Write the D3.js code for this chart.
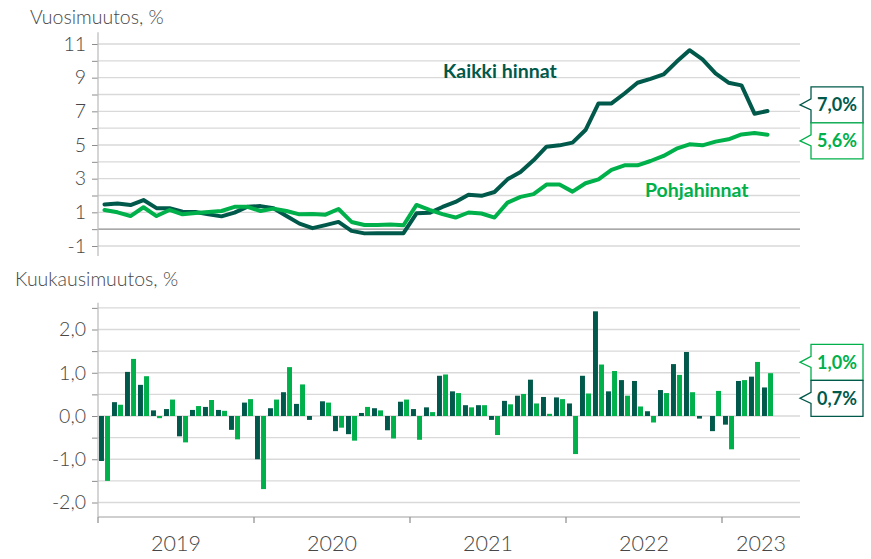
<!DOCTYPE html>
<html><head><meta charset="utf-8">
<script src="https://cdn.jsdelivr.net/npm/d3@7"></script>
<style>
body{margin:0;background:#fff}
svg{display:block}
text{font-family:Lato,"Open Sans",sans-serif}
</style>
</head><body>
<svg id="c" width="871" height="559"></svg>
<script>
// ---- data ----
const months = d3.timeMonth.range(new Date(2019, 0, 1), new Date(2023, 4, 1)); // 2019M01..2023M04
const years = ["2019", "2020", "2021", "2022", "2023"];
const seriesNames = ["Kaikki hinnat", "Pohjahinnat"];
const topTicks = [-1, 0, 1, 2, 3, 4, 5, 6, 7, 8, 9, 10, 11];
const bottomTicks = [-2, -1.5, -1, -0.5, 0, 0.5, 1, 1.5, 2, 2.5];

const kaikkiVuosi = [1.47,1.53,1.43,1.73,1.25,1.25,1.04,1.02,0.88,0.76,0.98,1.33,
  1.37,1.24,0.78,0.33,0.06,0.24,0.43,-0.10,-0.25,-0.24,-0.24,-0.24,
  0.94,0.97,1.32,1.62,2.04,1.98,2.21,2.96,3.40,4.09,4.90,4.98,
  5.14,5.89,7.47,7.47,8.06,8.70,8.93,9.19,9.94,10.63,10.08,9.25,
  8.70,8.54,6.86,7.02];
const pohjaVuosi = [1.14,1.00,0.78,1.30,0.78,1.14,0.88,0.96,1.02,1.08,1.33,1.33,
  1.08,1.22,1.08,0.88,0.90,0.86,1.20,0.43,0.25,0.25,0.27,0.23,
  1.44,1.15,0.89,0.69,0.99,0.93,0.69,1.58,1.92,2.08,2.65,2.65,
  2.23,2.73,2.96,3.52,3.79,3.79,4.05,4.35,4.78,5.04,4.98,5.20,
  5.34,5.63,5.71,5.61];
const kaikkiKk = [-1.04,0.32,1.02,0.72,0.13,0.16,-0.47,0.14,0.21,0.14,-0.32,0.31,
  -1.00,0.18,0.55,0.28,-0.09,0.34,-0.35,-0.42,0.07,0.18,-0.33,0.33,
  0.16,0.20,0.93,0.57,0.25,0.25,-0.09,0.35,0.47,0.84,0.44,0.43,
  0.29,0.93,2.42,0.57,0.83,0.81,0.11,0.60,1.20,1.48,-0.06,-0.35,
  -0.20,0.81,0.91,0.66];
const pohjaKk = [-1.50,0.26,1.32,0.92,-0.05,0.38,-0.61,0.23,0.37,0.12,-0.54,0.39,
  -1.69,0.38,1.13,0.73,0.00,0.31,-0.27,-0.57,0.21,0.13,-0.52,0.38,
  -0.55,0.09,0.96,0.53,0.20,0.25,-0.44,0.27,0.51,0.29,0.05,0.39,
  -0.88,0.52,1.19,1.04,0.47,0.22,-0.15,0.53,0.95,0.55,0.00,0.58,
  -0.77,0.83,1.25,0.99];

// ---- style ----
const DARK = "#00594a", LIGHT = "#00b04a";
const GRID = "#d9d9d9", AXIS = "#bfbfbf", TICK = "#8c8c8c", TXT = "#474747";

const loc = d3.formatLocale({decimal: ",", thousands: " ", grouping: [3], currency: ["", "€"], minus: "-"});
const f1 = loc.format(".1f");

const svg = d3.select("#c");
const nSlots = 54; // axis runs to end of June 2023
const x = d3.scaleLinear().domain([0, nSlots]).range([98, 800]);
const xLeft = x(0), xRight = x(nSlots);

// ================= TOP PANEL =================
const y1 = d3.scaleLinear().domain([-1, 11]).range([246, 44]);
const gTop = svg.append("g");
gTop.selectAll("line.grid").data(topTicks).join("line")
  .attr("x1", xLeft).attr("x2", xRight)
  .attr("y1", d => y1(d)).attr("y2", d => y1(d))
  .attr("stroke", d => d === 0 ? "#8c8c8c" : GRID).attr("stroke-width", d => d === 0 ? 1.4 : 1.3);

const axT = d3.axisLeft(y1).tickValues(topTicks).tickSize(6).tickPadding(6)
  .tickFormat(d => (d % 2 !== 0) ? String(d) : "");
const gT = gTop.append("g").attr("transform", `translate(${xLeft},0)`).call(axT);
gT.select(".domain").remove();
gT.selectAll(".tick line").attr("stroke", TICK);
gT.selectAll(".tick text").attr("fill", TXT).style("font-size", "19.5px").style("font-weight", 300);
gTop.append("line").attr("x1", xLeft).attr("x2", xLeft)
  .attr("y1", y1(11.7)).attr("y2", y1(-1.6)).attr("stroke", AXIS).attr("stroke-width", 1.3);

svg.append("text").attr("x", 30).attr("y", 24).text("Vuosimuutos, %")
  .attr("fill", TXT).style("font-size", "19.5px").style("font-weight", 300);

const line = d3.line().x((d, i) => x(i + 0.5)).y(d => y1(d)).curve(d3.curveLinear);
gTop.append("path").datum(kaikkiVuosi).attr("d", line).attr("fill", "none")
  .attr("stroke", DARK).attr("stroke-width", 4).attr("stroke-linejoin", "round").attr("stroke-linecap", "round");
gTop.append("path").datum(pohjaVuosi).attr("d", line).attr("fill", "none")
  .attr("stroke", LIGHT).attr("stroke-width", 4).attr("stroke-linejoin", "round").attr("stroke-linecap", "round");

gTop.append("text").attr("x", 443).attr("y", 78).text(seriesNames[0])
  .attr("fill", DARK).style("font-size", "19.5px").style("font-weight", 700);
gTop.append("text").attr("x", 645).attr("y", 197).text(seriesNames[1])
  .attr("fill", LIGHT).style("font-size", "19.5px").style("font-weight", 700);

// ================= BOTTOM PANEL =================
const y2 = d3.scaleLinear().domain([-2, 2]).range([502.5, 329.5]);
const xAxisY = 517;
const gBot = svg.append("g");
gBot.selectAll("line.grid").data(bottomTicks).join("line")
  .attr("x1", xLeft).attr("x2", xRight)
  .attr("y1", d => y2(d)).attr("y2", d => y2(d))
  .attr("stroke", GRID).attr("stroke-width", 1.3);

const axB = d3.axisLeft(y2).tickValues(bottomTicks).tickSize(6).tickPadding(6)
  .tickFormat(d => Number.isInteger(d) ? f1(d) : "");
const gB = gBot.append("g").attr("transform", `translate(${xLeft},0)`).call(axB);
gB.select(".domain").remove();
gB.selectAll(".tick line").attr("stroke", TICK);
gB.selectAll(".tick text").attr("fill", TXT).style("font-size", "19.5px").style("font-weight", 300);
gBot.append("line").attr("x1", xLeft).attr("x2", xLeft)
  .attr("y1", y2(2.62)).attr("y2", xAxisY).attr("stroke", AXIS).attr("stroke-width", 1.3);

svg.append("text").attr("x", 15).attr("y", 286).text("Kuukausimuutos, %")
  .attr("fill", TXT).style("font-size", "19.5px").style("font-weight", 300);

// bars
const inner = d3.scaleBand().domain(seriesNames).range([1, 12]).paddingInner(0.18);
const barData = months.map((m, i) => ({i, vals: [kaikkiKk[i], pohjaKk[i]]}));
const grp = gBot.selectAll("g.m").data(barData).join("g").attr("transform", d => `translate(${x(d.i)},0)`);
grp.selectAll("rect").data(d => d.vals.map((v, k) => ({v, k}))).join("rect")
  .attr("x", d => inner(seriesNames[d.k]))
  .attr("width", inner.bandwidth())
  .attr("y", d => y2(Math.max(0, d.v)))
  .attr("height", d => Math.abs(y2(d.v) - y2(0)))
  .attr("fill", d => d.k === 0 ? DARK : LIGHT);

// x axis
gBot.append("line").attr("x1", xLeft).attr("x2", xRight).attr("y1", xAxisY).attr("y2", xAxisY)
  .attr("stroke", AXIS).attr("stroke-width", 1.3);
const yearStarts = years.map((y, k) => k * 12);
gBot.selectAll("line.yt").data(yearStarts).join("line")
  .attr("x1", d => x(d)).attr("x2", d => x(d)).attr("y1", xAxisY).attr("y2", xAxisY + 6)
  .attr("stroke", TICK).attr("stroke-width", 1.2);
gBot.selectAll("text.yr").data(years).join("text")
  .attr("x", (d, k) => (x(k * 12) + x(Math.min((k + 1) * 12, nSlots))) / 2)
  .attr("y", 551).attr("text-anchor", "middle").text(d => d)
  .attr("fill", TXT).style("font-size", "21.5px").style("font-weight", 300);

// ================= CALLOUTS =================
function callouts(yScale, vals, colors) {
  const n = vals[0].length - 1;
  const last = [ {v: vals[0][n], c: colors[0]}, {v: vals[1][n], c: colors[1]} ]
    .sort((a, b) => b.v - a.v);
  const h = 36, bx = 811, bw = 52, tipX = 800;
  const mid = (yScale(last[0].v) + yScale(last[1].v)) / 2;
  last.forEach((d, k) => {
    const t = mid - h + k * h, b = t + h, cy = t + h / 2;
    const p = `M${bx},${t}H${bx + bw}V${b}H${bx}V${cy + 5}L${tipX},${cy}L${bx},${cy - 6}Z`;
    svg.append("path").attr("d", p).attr("fill", "#fff").attr("stroke", d.c).attr("stroke-width", 1.3);
    svg.append("text").attr("x", bx + bw / 2).attr("y", cy).attr("dy", "0.36em")
      .attr("text-anchor", "middle").text(f1(d.v) + "%")
      .attr("fill", d.c).style("font-size", "18px").style("font-weight", 700);
  });
}
callouts(y1, [kaikkiVuosi, pohjaVuosi], [DARK, LIGHT]);
callouts(y2, [kaikkiKk, pohjaKk], [DARK, LIGHT]);
</script>
</body></html>
